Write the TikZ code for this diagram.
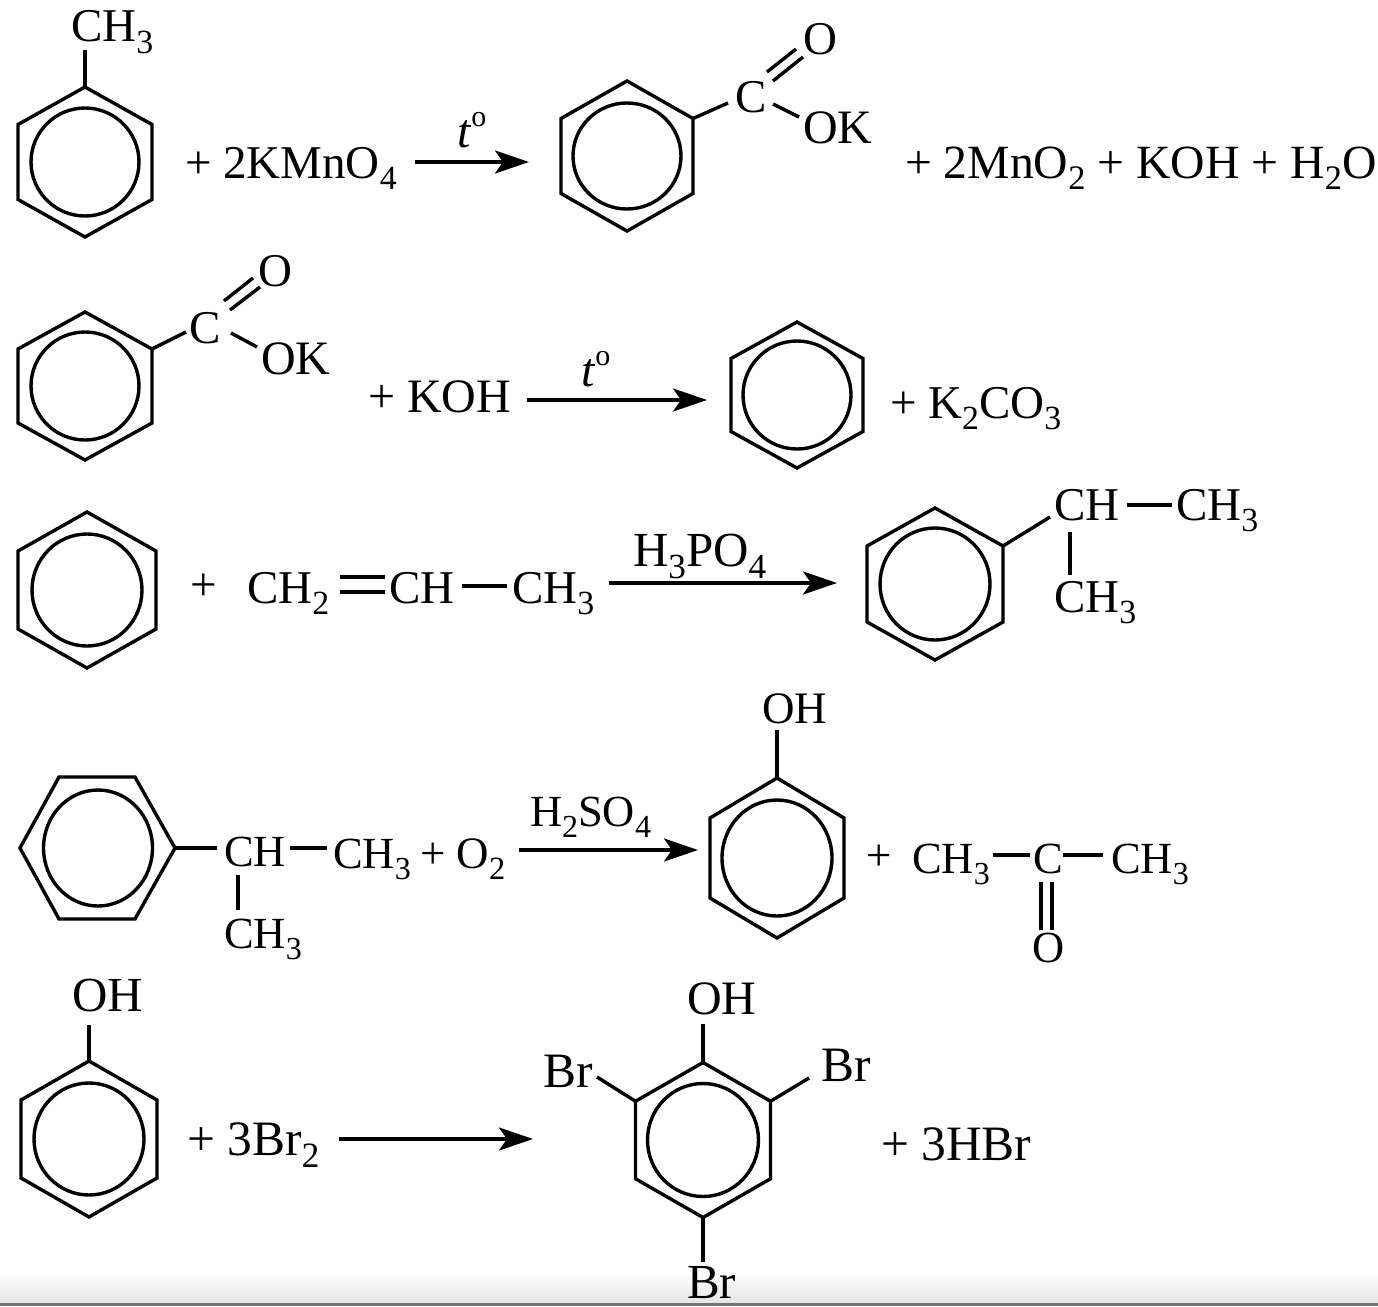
\documentclass[tikz,border=0pt]{standalone}
\usepackage{fontspec}
\setmainfont{Liberation Serif}
\usetikzlibrary{arrows.meta}
\newcommand\sbs[1]{\raisebox{-0.25em}{\fontsize{\the\dimexpr.72em\relax}{10}\selectfont #1}}
\newcommand\dego{\raisebox{0.42em}{\fontsize{30}{30}\selectfont o}}
\tikzset{
  txt/.style={anchor=base west,inner sep=0pt,outer sep=0pt},
  ringline/.style={line width=3.4pt,line join=miter},
  bond/.style={line width=3.4pt},
  rxn/.style={line width=3.4pt,-{Stealth[length=34pt,width=23pt,inset=8pt]}}
}
% pointy-top ring: name, cx, cy, half width, half height, circle rx, ry
\newcommand\ringP[7]{%
  \coordinate (#1-1) at (#2,#3-#5);
  \coordinate (#1-2) at (#2+#4,#3-#5/2);
  \coordinate (#1-3) at (#2+#4,#3+#5/2);
  \coordinate (#1-4) at (#2,#3+#5);
  \coordinate (#1-5) at (#2-#4,#3+#5/2);
  \coordinate (#1-6) at (#2-#4,#3-#5/2);
  \draw[ringline] (#1-1)--(#1-2)--(#1-3)--(#1-4)--(#1-5)--(#1-6)--cycle;
  \draw[ringline] (#2,#3) ellipse [x radius=#6pt,y radius=#7pt];
}
\newcommand\TX[5][47]{\node[txt] (#2) at (#3,#4) {\fontsize{#1}{#1}\selectfont #5};}
\newcommand\BD[5]{% name, x1,y1,x2,y2
  \coordinate (#1a) at (#2,#3);
  \coordinate (#1b) at (#4,#5);
  \draw[bond] (#1a)--(#1b);
}
\newcommand\AR[4]{% name, x1,x2,y
  \coordinate (#1a) at (#2,#4);
  \coordinate (#1b) at (#3,#4);
  \draw[rxn] (#1a)--(#1b);
}
\begin{document}
\begin{tikzpicture}[x=1pt,y=-1pt]
\useasboundingbox (0,0) rectangle (1378,1306);
\shade[top color=white,bottom color=black!10,draw=none] (0,1272) rectangle (1378,1303);
\fill[black!55] (0,1303) rectangle (1378,1306);
% Row 1
\ringP{r1}{85}{162}{67}{75}{54}{54}
\TX{a1}{71}{42}{CH\sbs{3}}
\coordinate (a1b) at (85,50);
\draw[bond] (a1b)--(r1-1);
\TX{a2}{185}{178}{+ 2KMnO\sbs{4}}
\AR{ar1}{415}{529}{162}
\TX[48]{a3}{457}{147}{\textit{t}\dego}
\ringP{r2}{627}{156}{66}{75}{54}{53}
\TX{a4}{735}{112}{C}
\TX{a5}{803}{55}{O}
\TX[48]{a6}{803}{143}{OK}
\coordinate (b1) at (728,103);
\draw[bond] (r2-2)--(b1);
\BD{b2}{767}{72}{796}{49}
\BD{b3}{773}{81}{803}{57}
\BD{b4}{773}{104}{799}{117}
\TX[47.7]{a7}{905}{178}{+ 2MnO\sbs{2} + KOH + H\sbs{2}O}
% Row 2
\ringP{r3}{85}{386}{67}{74}{54}{54}
\TX{c1}{189}{343}{C}
\TX{c2}{258}{286}{O}
\TX[48]{c3}{261}{374}{OK}
\coordinate (d1) at (186,332);
\draw[bond] (r3-2)--(d1);
\BD{d2}{224}{301}{253}{278}
\BD{d3}{230}{310}{260}{287}
\BD{d4}{231}{333}{257}{347}
\TX[48]{c4}{368}{412}{+ KOH}
\AR{ar2}{527}{707}{400}
\TX[48]{c5}{581}{386}{\textit{t}\dego}
\ringP{r4}{797}{395}{66}{73}{54}{54}
\TX{c6}{890}{418}{+ K\sbs{2}CO\sbs{3}}
% Row 3
\ringP{r5}{87}{590}{69}{78}{55}{56}
\TX{e1}{190}{600}{+}
\TX{e2}{247}{603}{CH\sbs{2}}
\BD{f1}{340}{577}{385}{577}
\BD{f2}{340}{592}{385}{592}
\TX{e3}{389}{603}{CH}
\BD{f3}{462}{586}{507}{586}
\TX{e4}{512}{603}{CH\sbs{3}}
\AR{ar3}{609}{837}{583}
\TX[49]{e5}{633}{566}{H\sbs{3}PO\sbs{4}}
\ringP{r6}{935}{584}{68}{76}{55}{56}
\TX{e6}{1054}{520}{CH}
\BD{f5}{1127}{505}{1172}{505}
\TX{e7}{1176}{520}{CH\sbs{3}}
\BD{f6}{1070}{532}{1070}{575}
\TX{e8}{1054}{612}{CH\sbs{3}}
\coordinate (f4) at (1050,517);
\draw[bond] (r6-2)--(f4);
% Row 4: flat-top ring
\coordinate (r7-1) at (20,848);
\coordinate (r7-2) at (59,777);
\coordinate (r7-3) at (135,777);
\coordinate (r7-4) at (175,848);
\coordinate (r7-5) at (135,919);
\coordinate (r7-6) at (59,919);
\draw[ringline] (r7-1)--(r7-2)--(r7-3)--(r7-4)--(r7-5)--(r7-6)--cycle;
\draw[ringline] (98,848) ellipse [x radius=54.5pt,y radius=58pt];
\coordinate (g1) at (217,848);
\draw[bond] (r7-4)--(g1);
\TX[44.5]{h1}{224}{866}{CH}
\BD{g2}{290}{848}{327}{848}
\TX[44.5]{h2}{333}{868}{CH\sbs{3}}
\TX[45]{h3}{420}{868}{+ O\sbs{2}}
\BD{g3}{238}{875}{238}{910}
\TX[44.5]{h4}{224}{948}{CH\sbs{3}}
\AR{ar4}{519}{698}{850}
\TX[44.5]{h5}{530}{826}{H\sbs{2}SO\sbs{4}}
\ringP{r8}{777}{858}{67}{80}{55}{58}
\TX[45]{h6}{762}{723}{OH}
\coordinate (g4) at (777,730);
\draw[bond] (g4)--(r8-1);
\TX[45]{h7}{866}{870}{+}
\TX[44.5]{h8}{912}{873}{CH\sbs{3}}
\BD{g5}{993}{855}{1030}{855}
\TX[44.5]{h9}{1033}{873}{C}
\BD{g6}{1063}{855}{1103}{855}
\TX[44.5]{h10}{1111}{873}{CH\sbs{3}}
\BD{g7}{1041}{882}{1041}{930}
\BD{g8}{1052}{882}{1052}{930}
\TX[44.5]{h11}{1032}{962}{O}
% Row 5
\ringP{r9}{89}{1139}{68}{78}{55}{56}
\TX[49]{k1}{72}{1011}{OH}
\coordinate (m1) at (89,1025);
\draw[bond] (m1)--(r9-1);
\TX[49.5]{k2}{187}{1155}{+ 3Br\sbs{2}}
\AR{ar5}{339}{533}{1139}
\ringP{r10}{703}{1140}{67.5}{77.5}{55.5}{56.5}
\TX[48]{k3}{687}{1014}{OH}
\TX[49.5]{k4}{543}{1087}{Br}
\TX[49.5]{k5}{821}{1081}{Br}
\TX[49.5]{k6}{881}{1160}{+ 3HBr}
\TX[49]{k7}{687}{1298}{Br}
\coordinate (m2) at (703,1024);
\draw[bond] (m2)--(r10-1);
\coordinate (m3) at (597,1077);
\draw[bond] (m3)--(r10-6);
\coordinate (m4) at (809,1078);
\draw[bond] (m4)--(r10-2);
\coordinate (m5) at (703,1262);
\draw[bond] (r10-4)--(m5);
\end{tikzpicture}
\end{document}
